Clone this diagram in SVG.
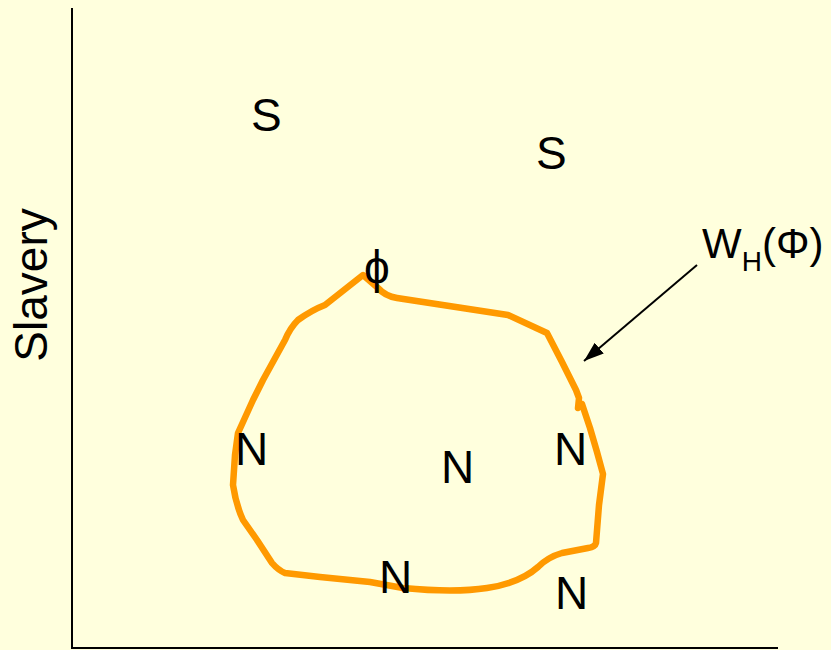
<svg xmlns="http://www.w3.org/2000/svg" width="831" height="650" viewBox="0 0 831 650">
<style>
.t{font-family:"Liberation Sans",Arial,sans-serif;font-size:46px;fill:#000}
.lbl{font-size:42px}
.sub{font-size:28px}
.ax{stroke:#000;stroke-width:2;fill:none}
.curve{stroke:#FF9900;stroke-width:6.5;fill:none;stroke-linejoin:round;stroke-linecap:round}
</style>
<defs>
<marker id="ah2" viewBox="0 0 20 14" refX="20" refY="7" markerWidth="20" markerHeight="14" markerUnits="userSpaceOnUse" orient="auto">
<path d="M0,0 L20,7 L0,14 Z" fill="#000"/>
</marker>
</defs>
<rect width="831" height="650" fill="#FFFFDD"/>
<g id="axes">
<line class="ax" x1="72" y1="8" x2="72" y2="649"/>
<line class="ax" x1="71" y1="648" x2="778" y2="648"/>
</g>
<g id="ylabel"><text class="t" transform="translate(47,285) rotate(-90)" text-anchor="middle">Slavery</text></g>
<g id="region">
<path class="curve" d="M363,275 L378,288 Q385,296 397,298 L508,315 L547,333 L562,362 L576,390 L579,398 L578,408 L582,404 L590,428 L597,452 L603,474 L599,505 L596,543 Q595,547 588,548 L562,553 Q548,557 538,567 Q520,583 487,588 Q455,593 403,588 L370,582 L320,577 L285,573 Q278,570 272,563 L257,540 L243,520 Q236,505 233,485 L235,455 L238,433 L253,400 L263,380 L285,340 Q290,328 298,320 Q312,310 325,305 Z"/>
</g>
<g id="s1"><text class="t" x="251" y="131">S</text></g>
<g id="s2"><text class="t" x="536" y="169">S</text></g>
<g id="phi"><text class="t" x="377" y="283" text-anchor="middle">ϕ</text></g>
<g id="n1"><text class="t" x="235" y="465">N</text></g>
<g id="n2"><text class="t" x="441" y="483">N</text></g>
<g id="n3"><text class="t" x="554" y="465">N</text></g>
<g id="n4"><text class="t" x="379" y="593">N</text></g>
<g id="n5"><text class="t" x="555" y="609">N</text></g>
<g id="label"><text class="t lbl" x="702" y="258">W<tspan class="sub" dy="13">H</tspan><tspan dy="-13">(Φ)</tspan></text></g>
<g id="connectors">
<line x1="697" y1="265" x2="584" y2="361" stroke="#000" stroke-width="2" marker-end="url(#ah2)"/>
</g>
</svg>
